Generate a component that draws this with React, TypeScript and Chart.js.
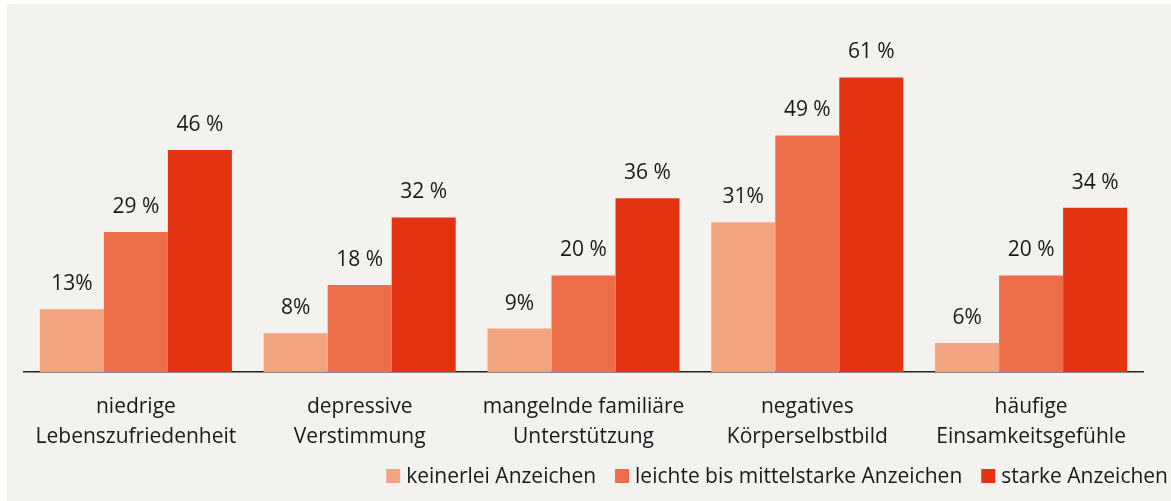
import React, { useEffect, useRef } from "react";
import { Chart, registerables } from "chart.js";

Chart.register(...registerables);

const categories: string[][] = [
  ["niedrige", "Lebenszufriedenheit"],
  ["depressive", "Verstimmung"],
  ["mangelnde familiäre", "Unterstützung"],
  ["negatives", "Körperselbstbild"],
  ["häufige", "Einsamkeitsgefühle"],
];
const seriesNames = ["keinerlei Anzeichen", "leichte bis mittelstarke Anzeichen", "starke Anzeichen"];
const keinerlei = [13, 8, 9, 31, 6];
const leichte = [29, 18, 20, 49, 20];
const starke = [46, 32, 36, 61, 34];
const labelSuffix = ["%", " %", " %"];
const colors = ["#F4A380", "#EC6E48", "#E43312"];

const FONT = '"Open Sans", "Noto Sans", sans-serif';
const TEXT = "#1a1a1a";

const valueLabels = {
  id: "valueLabels",
  afterDatasetsDraw(chart: any) {
    const ctx = chart.ctx;
    ctx.save();
    ctx.font = `21px ${FONT}`;
    ctx.fillStyle = TEXT;
    ctx.textAlign = "center";
    ctx.textBaseline = "middle";
    chart.data.datasets.forEach((ds: any, i: number) => {
      const meta = chart.getDatasetMeta(i);
      meta.data.forEach((el: any, j: number) => {
        ctx.fillText(`${ds.data[j]}${labelSuffix[i]}`, el.x, el.y - 25);
      });
    });
    ctx.restore();
  },
};

const customLegend = {
  id: "customLegend",
  afterDraw(chart: any) {
    const ctx = chart.ctx;
    ctx.save();
    ctx.font = `21px ${FONT}`;
    ctx.textBaseline = "middle";
    ctx.textAlign = "left";
    const box = 14;
    const gap = 6;
    const itemGap = 19;
    const widths = seriesNames.map((n) => ctx.measureText(n).width);
    const total = widths.reduce((a, w) => a + box + gap + w, 0) + itemGap * (seriesNames.length - 1);
    let x = chart.width - 3 - total;
    const y = chart.height - 25;
    seriesNames.forEach((n, i) => {
      ctx.fillStyle = colors[i];
      ctx.fillRect(x, y - box / 2, box, box);
      ctx.fillStyle = TEXT;
      ctx.fillText(n, x + box + gap, y + 1);
      x += box + gap + widths[i] + itemGap;
    });
    ctx.restore();
  },
};

export default function App() {
  const ref = useRef<HTMLCanvasElement | null>(null);
  useEffect(() => {
    if (!ref.current) return;
    const chart = new Chart(ref.current, {
      type: "bar",
      data: {
        labels: categories,
        datasets: [keinerlei, leichte, starke].map((d, i) => ({
          label: seriesNames[i],
          data: d,
          backgroundColor: colors[i],
          borderWidth: 0,
          categoryPercentage: 0.858,
          barPercentage: 1,
        })),
      },
      options: {
        responsive: false,
        animation: false,
        devicePixelRatio: 1,
        layout: { padding: { left: 17, right: 28, top: 30, bottom: 0 } },
        plugins: {
          legend: { display: false },
          tooltip: { enabled: false },
        },
        scales: {
          x: {
            grid: { display: false, drawTicks: false },
            border: { display: true, color: "#222", width: 1.5 },
            ticks: {
              color: TEXT,
              font: { family: FONT, size: 21, lineHeight: 30 / 21 },
              padding: 20,
              maxRotation: 0,
              autoSkip: false,
            },
            afterFit: (scale: any) => {
              scale.height = 129;
            },
          },
          y: { display: false, min: 0, max: 70 },
        },
      },
      plugins: [valueLabels, customLegend],
    });
    return () => chart.destroy();
  }, []);
  return (
    <div style={{ position: "absolute", left: 0, top: 0, width: 1171, height: 501, background: "#fff", overflow: "hidden" }}>
      <div style={{ position: "absolute", left: 7, top: 4, width: 1164, height: 497, background: "#F4F2EE" }}>
        <canvas ref={ref} width={1164} height={497} style={{ display: "block", width: 1164, height: 497 }} />
      </div>
    </div>
  );
}
